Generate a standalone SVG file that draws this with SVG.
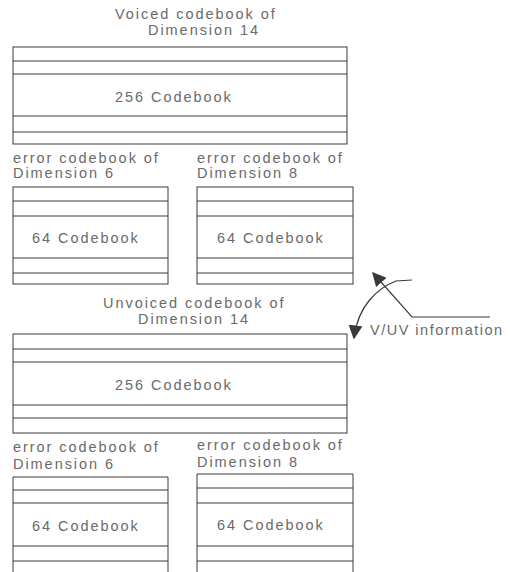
<svg xmlns="http://www.w3.org/2000/svg" width="510" height="572" viewBox="0 0 510 572">
<style>
  .t{font-family:"Liberation Sans",Arial,sans-serif;font-size:14.5px;letter-spacing:1.95px;fill:#6a6a6a}
  .b{fill:none;stroke:#3a3a3a;stroke-width:1}
  .c{fill:none;stroke:#3a3a3a;stroke-width:1.2}
</style>
<defs>
  <marker id="ah2" viewBox="0 0 10 10" refX="9" refY="5" markerWidth="14" markerHeight="14" markerUnits="userSpaceOnUse" orient="auto">
    <path d="M0,0 L10,5 L0,10 z" fill="#3a3a3a"/>
  </marker>
</defs>
<rect width="510" height="572" fill="#fff"/>

<g id="voiced-main">
  <text class="t" x="115" y="19">Voiced codebook of</text>
  <text class="t" x="148" y="35">Dimension 14</text>
  <rect class="b" x="13" y="47" width="334" height="97"/>
  <path class="b" d="M13,61H347M13,74H347M13,116H347M13,132H347"/>
  <text class="t" x="115" y="102">256 Codebook</text>
</g>

<g id="voiced-err6">
  <text class="t" x="13" y="163">error codebook of</text>
  <text class="t" x="13" y="178">Dimension 6</text>
  <rect class="b" x="13" y="187" width="155" height="97"/>
  <path class="b" d="M13,201H168M13,216H168M13,258H168M13,273H168"/>
  <text class="t" x="32" y="243">64 Codebook</text>
</g>

<g id="voiced-err8">
  <text class="t" x="197" y="163">error codebook of</text>
  <text class="t" x="197" y="178">Dimension 8</text>
  <rect class="b" x="197" y="187" width="156" height="97"/>
  <path class="b" d="M197,201H353M197,216H353M197,258H353M197,273H353"/>
  <text class="t" x="217" y="243">64 Codebook</text>
</g>

<g id="unvoiced-main">
  <text class="t" x="103" y="308">Unvoiced codebook of</text>
  <text class="t" x="138" y="324">Dimension 14</text>
  <rect class="b" x="13" y="334" width="334" height="99"/>
  <path class="b" d="M13,349H347M13,362H347M13,405H347M13,418H347"/>
  <text class="t" x="115" y="390">256 Codebook</text>
</g>

<g id="unvoiced-err6">
  <text class="t" x="13" y="452">error codebook of</text>
  <text class="t" x="13" y="469">Dimension 6</text>
  <path class="b" d="M13,580V477H168V580M13,490H168M13,503H168M13,546H168M13,561H168"/>
  <text class="t" x="32" y="531">64 Codebook</text>
</g>

<g id="unvoiced-err8">
  <text class="t" x="197" y="450">error codebook of</text>
  <text class="t" x="197" y="467">Dimension 8</text>
  <path class="b" d="M197,580V474H353V580M197,488H353M197,503H353M197,546H353M197,561H353"/>
  <text class="t" x="217" y="530">64 Codebook</text>
</g>

<g id="vuv-info">
  <text class="t" x="370" y="335" style="letter-spacing:1.5px">V/UV information</text>
</g>

<g id="connectors">
  <path class="c" d="M490,317H412L373,273" marker-end="url(#ah2)"/>
  <path class="c" d="M412,280L396,281C378,288 358,305 354,338" marker-end="url(#ah2)"/>
</g>
</svg>
